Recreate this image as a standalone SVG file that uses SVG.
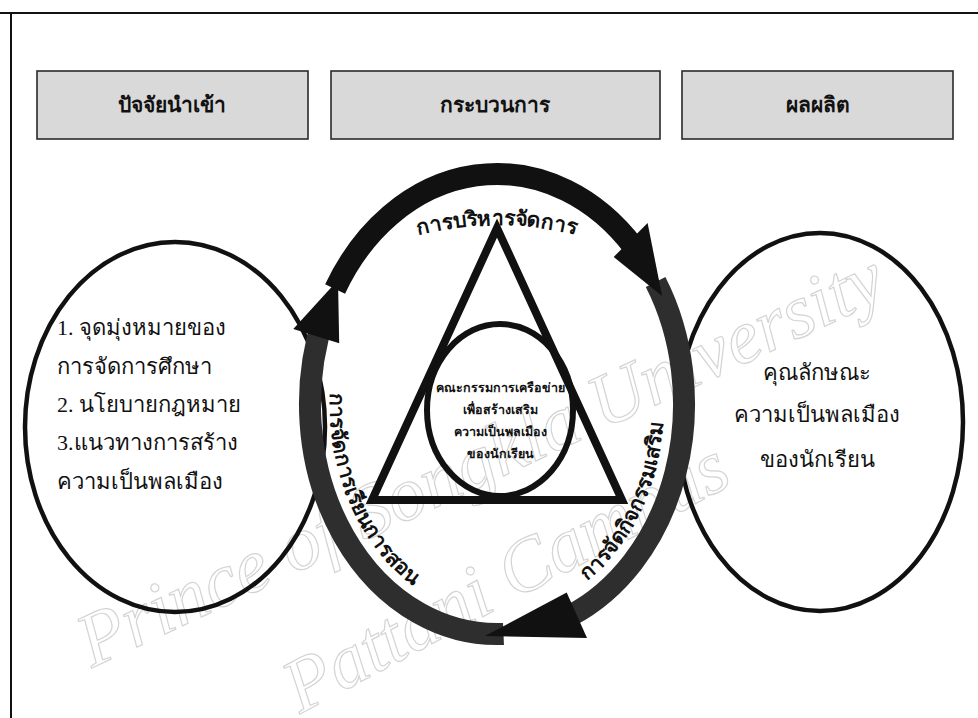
<svg xmlns="http://www.w3.org/2000/svg" width="978" height="718" viewBox="0 0 978 718">
<style>
.hdr{fill:#d9d9d9;stroke:#2a2a2a;stroke-width:1.6}
.ht{font-family:"Liberation Serif","Noto Sans",serif;font-size:21px;font-weight:bold;fill:#111;text-anchor:middle}
.ell{fill:none;stroke:#111;stroke-width:4.5}
.et{font-family:"Liberation Serif","Noto Sans",serif;font-size:22px;fill:#111}
.ring{fill:none;stroke-width:22}
.arc{font-family:"Noto Sans","DejaVu Sans",sans-serif;font-size:21px;font-weight:bold;fill:#111}
.it{font-family:"Noto Sans","DejaVu Sans",sans-serif;font-size:12.5px;font-weight:bold;fill:#111;text-anchor:middle}
.wm{font-family:"Liberation Serif",serif;font-style:italic;font-size:76px;fill:none;stroke:#d4d4d4;stroke-width:1.2}
</style>
<defs>
<path id="pTop" d="M 377 248.4 A 320 320 0 0 1 617 248.4"/>
<path id="pLeft" d="M 358 287 A 167 210 0 0 0 518 612"/>
<path id="pRight" d="M 468 610.8 A 167 210 0 0 0 641.6 299"/>
</defs>
<rect width="978" height="718" fill="#fff"/>
<g id="watermark">
<text class="wm" transform="translate(92 668) rotate(-25)">Prince of Songkla University</text>
<text class="wm" transform="translate(300 714) rotate(-28)">Pattani Campus</text>
</g>
<g id="frame" stroke="#111" stroke-width="2" fill="none">
<line x1="0" y1="13" x2="978" y2="13"/>
<line x1="11" y1="13" x2="11" y2="718"/>
</g>
<g id="header-input"><rect class="hdr" x="37" y="71" width="271" height="68"/><text class="ht" x="172" y="112">ปัจจัยนำเข้า</text></g>
<g id="header-process"><rect class="hdr" x="331" y="71" width="329" height="68"/><text class="ht" x="495" y="112">กระบวนการ</text></g>
<g id="header-output"><rect class="hdr" x="682" y="71" width="271" height="68"/><text class="ht" x="818" y="112">ผลผลิต</text></g>
<g id="input">
<ellipse class="ell" cx="175" cy="427" rx="150" ry="185"/>
<text class="et" x="57" y="335">1. จุดมุ่งหมายของ</text>
<text class="et" x="57" y="374">การจัดการศึกษา</text>
<text class="et" x="57" y="412">2. นโยบายกฎหมาย</text>
<text class="et" x="57" y="450">3.แนวทางการสร้าง</text>
<text class="et" x="57" y="489">ความเป็นพลเมือง</text>
</g>
<g id="output">
<ellipse class="ell" cx="820" cy="422" rx="143" ry="189"/>
<text class="et" x="817" y="380" text-anchor="middle">คุณลักษณะ</text>
<text class="et" x="817" y="422" text-anchor="middle">ความเป็นพลเมือง</text>
<text class="et" x="817" y="467" text-anchor="middle">ของนักเรียน</text>
</g>
<g id="connectors">
<path class="ring" stroke="#2e2e2e" d="M 655.6 282.1 A 187 230 0 0 1 570.1 615.7"/>
<path class="ring" stroke="#2e2e2e" d="M 503.5 633.9 A 187 230 0 0 1 323.6 317.8"/>
<path class="ring" stroke="#111" d="M 335.1 289 A 187 230 0 0 1 633.8 247.1"/>
<polygon fill="#111" points="613.7,256.9 647.6,223 662.1,296"/>
<polygon fill="#111" points="566.7,592.5 587,638 485,636"/>
<polygon fill="#111" points="339.2,343.2 293.3,329.1 338,280"/>
</g>
<g id="process">
<polygon points="497,228 372,500 622,500" fill="none" stroke="#111" stroke-width="8" stroke-linejoin="miter"/>
<ellipse cx="500" cy="410" rx="73" ry="86" fill="none" stroke="#111" stroke-width="6"/>
<text class="it" x="500" y="392">คณะกรรมการเครือข่าย</text>
<text class="it" x="500" y="414">เพื่อสร้างเสริม</text>
<text class="it" x="500" y="436">ความเป็นพลเมือง</text>
<text class="it" x="500" y="458">ของนักเรียน</text>
</g>
<g id="arc-labels">
<text class="arc"><textPath href="#pTop" startOffset="50%" text-anchor="middle">การบริหารจัดการ</textPath></text>
<text class="arc"><textPath href="#pLeft" startOffset="50%" text-anchor="middle">การจัดการเรียนการสอน</textPath></text>
<text class="arc"><textPath href="#pRight" startOffset="50%" text-anchor="middle">การจัดกิจกรรมเสริม</textPath></text>
</g>
</svg>
